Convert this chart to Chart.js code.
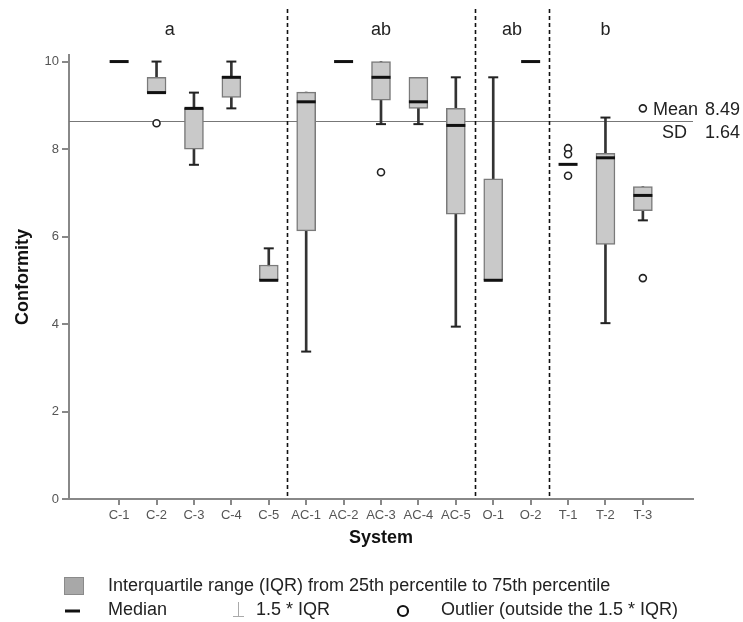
<!DOCTYPE html>
<html>
<head>
<meta charset="utf-8">
<script src="https://cdn.jsdelivr.net/npm/chart.js@4"></script>
<style>
html,body{margin:0;padding:0;background:#fff;}
#wrap{width:743px;height:622px;position:relative;}
</style>
</head>
<body>
<div id="wrap"><canvas id="c" width="743" height="622"></canvas></div>
<script>
// ---- data ----
const categories = ['C-1','C-2','C-3','C-4','C-5','AC-1','AC-2','AC-3','AC-4','AC-5','O-1','O-2','T-1','T-2','T-3'];
const whiskerLow  = [10, 9.29, 7.64, 8.93, 5.00, 3.37, 10, 8.57, 8.57, 3.94, 5.00, 10, 7.65, 4.02, 6.37];
const q1          = [10, 9.29, 8.00, 9.18, 5.00, 6.13, 10, 9.12, 8.93, 6.51, 5.00, 10, 7.65, 5.82, 6.59];
const median      = [10, 9.29, 8.93, 9.64, 5.00, 9.08, 10, 9.64, 9.08, 8.54, 5.00, 10, 7.65, 7.80, 6.94];
const q3          = [10, 9.64, 8.93, 9.66, 5.35, 9.30, 10, 10.0, 9.64, 8.93, 7.32, 10, 7.65, 7.90, 7.14];
const whiskerHigh = [10, 10.0, 9.29, 10.0, 5.73, 9.30, 10, 10.0, 9.64, 9.64, 9.64, 10, 7.65, 8.72, 7.14];
const outlierSystem = ['C-2','AC-3','T-1','T-1','T-1','T-3','T-3'];
const outlierValue  = [8.59, 7.47, 8.02, 7.88, 7.39, 8.93, 5.05];
const groupLetters = ['a','ab','ab','b'];
const groupSizes   = [5, 5, 2, 3];
const referenceLine = 8.63;
const meanLabel = '8.49';
const sdLabel = '1.64';
const yTicks = [0, 2, 4, 6, 8, 10];

const FONT = '"Liberation Sans", Arial, Helvetica, sans-serif';

// ---- datasets built from the arrays ----
const boxData = [], whiskerData = [], capData = [], medianData = [];
categories.forEach((c, i) => {
  if (q3[i] > q1[i]) boxData.push({x: i, y: [q1[i], q3[i]]});
  if (whiskerHigh[i] > whiskerLow[i]) whiskerData.push({x: i, y: [whiskerLow[i], whiskerHigh[i]]});
  if (whiskerHigh[i] > q3[i]) capData.push({x: i, y: whiskerHigh[i]});
  if (whiskerLow[i] < q1[i]) capData.push({x: i, y: whiskerLow[i]});
  medianData.push({x: i, y: median[i]});
});
const outlierData = outlierSystem.map((s, k) => ({x: categories.indexOf(s), y: outlierValue[k]}));

// group separators between groups (half-way between categories)
const separators = [];
let acc = 0;
groupSizes.slice(0, -1).forEach(n => { acc += n; separators.push(acc - 0.5); });

const decor = {
  id: 'decor',
  beforeDatasetsDraw(chart) {
    const {ctx, chartArea, scales: {y}} = chart;
    const py = y.getPixelForValue(referenceLine);
    ctx.save();
    ctx.strokeStyle = '#777';
    ctx.lineWidth = 1;
    ctx.beginPath();
    ctx.moveTo(chartArea.left, Math.round(py) + 0.5);
    ctx.lineTo(chartArea.right, Math.round(py) + 0.5);
    ctx.stroke();
    ctx.restore();
  },
  afterDatasetsDraw(chart, args, opts) {
    const {ctx, chartArea, scales: {x, y}} = chart;
    ctx.save();
    // dashed group separators
    ctx.strokeStyle = '#111';
    ctx.lineWidth = 1.6;
    ctx.setLineDash([4, 3]);
    const topPx = y.getPixelForValue(opts.separatorTop);
    separators.forEach(s => {
      const px = Math.round(x.getPixelForValue(s)) + 0.5;
      ctx.beginPath();
      ctx.moveTo(px, topPx);
      ctx.lineTo(px, chartArea.bottom);
      ctx.stroke();
    });
    ctx.setLineDash([]);
    // group letters
    ctx.fillStyle = '#222';
    ctx.font = '18px ' + FONT;
    ctx.textAlign = 'center';
    ctx.textBaseline = 'middle';
    const ly = y.getPixelForValue(opts.letterLevel);
    groupLetters.forEach((g, k) => {
      ctx.fillText(g, x.getPixelForValue(opts.letterAt[k]), ly);
    });
    // mean / sd annotation
    const py = y.getPixelForValue(referenceLine);
    ctx.font = '18px ' + FONT;
    ctx.textAlign = 'left';
    ctx.fillText('Mean', chartArea.right - 40, py - 11.5);
    ctx.fillText('SD', chartArea.right - 31, py + 11.5);
    ctx.textAlign = 'right';
    ctx.fillText(meanLabel, chartArea.right + 47, py - 11.5);
    ctx.fillText(sdLabel, chartArea.right + 47, py + 11.5);
    ctx.restore();
  },
  afterDraw(chart) {
    const {ctx} = chart;
    ctx.save();
    ctx.font = '18px ' + FONT;
    ctx.fillStyle = '#222';
    ctx.textAlign = 'left';
    ctx.textBaseline = 'middle';
    const r1 = 586, r2 = 610;
    // IQR swatch
    ctx.fillStyle = '#a8a8a8';
    ctx.fillRect(64.5, 577.5, 19, 17);
    ctx.strokeStyle = '#8a8a8a';
    ctx.lineWidth = 1;
    ctx.strokeRect(64.5, 577.5, 19, 17);
    ctx.fillStyle = '#222';
    ctx.fillText('Interquartile range (IQR) from 25th percentile to 75th percentile', 108, r1);
    // median
    ctx.strokeStyle = '#111';
    ctx.lineWidth = 3;
    ctx.beginPath(); ctx.moveTo(65, r2 + 1); ctx.lineTo(80, r2 + 1); ctx.stroke();
    ctx.fillText('Median', 108, r2);
    // whisker symbol
    ctx.strokeStyle = '#aaa';
    ctx.lineWidth = 1;
    ctx.beginPath();
    ctx.moveTo(238.5, r2 - 8); ctx.lineTo(238.5, r2 + 6);
    ctx.moveTo(233, r2 + 6.5); ctx.lineTo(244, r2 + 6.5);
    ctx.stroke();
    ctx.fillText('1.5 * IQR', 256, r2);
    // outlier symbol
    ctx.strokeStyle = '#111';
    ctx.lineWidth = 2.2;
    ctx.beginPath(); ctx.arc(403, r2 + 1, 5, 0, Math.PI * 2); ctx.stroke();
    ctx.fillText('Outlier (outside the 1.5 * IQR)', 441, r2);
    ctx.restore();
  }
};

new Chart(document.getElementById('c'), {
  type: 'bar',
  data: {
    datasets: [
      {type: 'scatter', data: outlierData, order: 0, pointStyle: 'circle', pointRadius: 3.5,
       pointBorderWidth: 1.6, pointBorderColor: '#222', pointBackgroundColor: '#fff'},
      {type: 'scatter', data: capData, order: 1, pointStyle: 'line', pointRadius: 5,
       pointBorderWidth: 2, pointBorderColor: '#222'},
      {type: 'scatter', data: medianData, order: 2, pointStyle: 'line', pointRadius: 9.5,
       pointBorderWidth: 3, pointBorderColor: '#111'},
      {type: 'bar', data: boxData, order: 3, barThickness: 19, grouped: false,
       backgroundColor: '#c9c9c9', borderColor: '#7a7a7a', borderWidth: 1.5, borderSkipped: false},
      {type: 'bar', data: whiskerData, order: 4, barThickness: 2, grouped: false,
       backgroundColor: '#333', borderWidth: 0}
    ]
  },
  options: {
    responsive: false,
    animation: false,
    events: [],
    layout: {padding: {top: 55, right: 50, bottom: 73, left: 0}},
    plugins: {
      legend: {display: false},
      tooltip: {enabled: false},
      decor: {separatorTop: 11.2, letterLevel: 10.72, letterAt: [1.35, 7, 10.5, 13]}
    },
    scales: {
      x: {
        type: 'linear', min: -1.34, max: 15.34, offset: false,
        afterBuildTicks: s => { s.ticks = categories.map((c, i) => ({value: i})); },
        afterFit: s => { s.height = 50; },
        ticks: {callback: v => categories[v] ?? '', autoSkip: false, maxRotation: 0, minRotation: 0,
                color: '#555', font: {family: FONT, size: 13}, padding: 3},
        grid: {offset: false, drawOnChartArea: false, drawTicks: true, tickLength: 6, color: '#888', lineWidth: 2},
        border: {display: true, color: '#888', width: 2},
        title: {display: true, text: 'System', color: '#111',
                font: {family: FONT, size: 18, weight: 'bold'}, padding: {top: 0, bottom: 0}}
      },
      y: {
        type: 'linear', min: 0, max: 10.15,
        afterBuildTicks: s => { s.ticks = yTicks.map(v => ({value: v})); },
        afterFit: s => { s.width = 69; },
        ticks: {color: '#555', font: {family: FONT, size: 13}, padding: 3},
        grid: {drawOnChartArea: false, drawTicks: true, tickLength: 7, color: '#888', lineWidth: 2},
        border: {display: true, color: '#888', width: 2},
        title: {display: true, text: 'Conformity', color: '#111',
                font: {family: FONT, size: 18, weight: 'bold'}, padding: {top: 12, bottom: 0}}
      }
    }
  },
  plugins: [decor]
});
</script>
</body>
</html>
